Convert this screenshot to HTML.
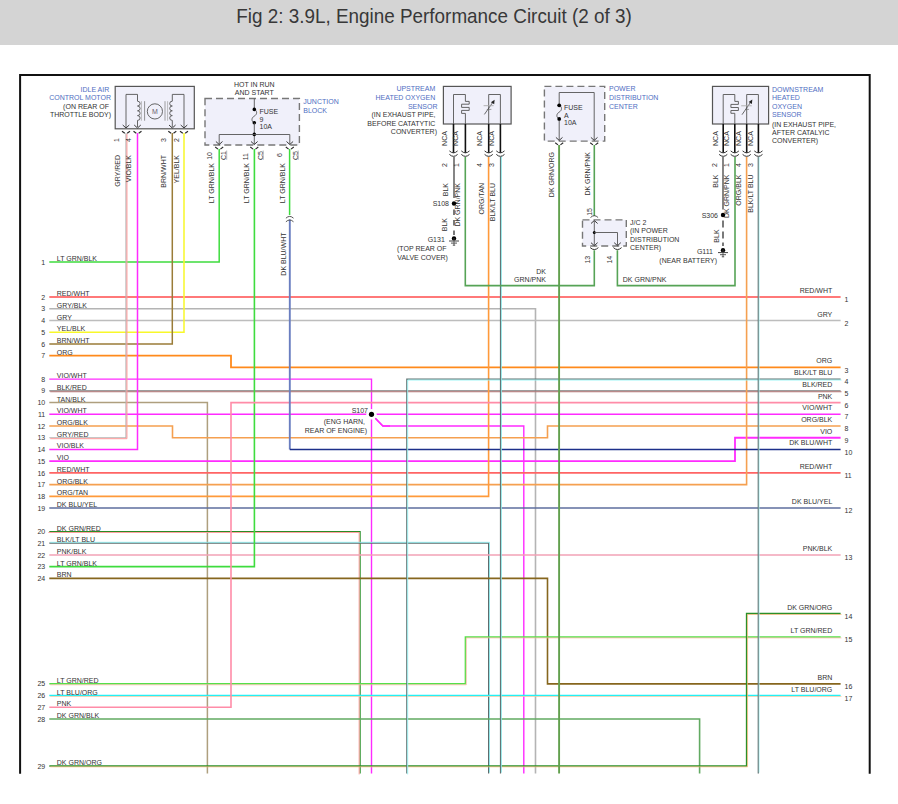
<!DOCTYPE html>
<html><head><meta charset="utf-8"><style>
html,body{margin:0;padding:0;background:#fff;width:898px;height:804px;overflow:hidden}
.hdr{position:absolute;left:0;top:0;width:898px;height:45px;background:#d4d4d4}
.title{position:absolute;left:0;top:0;width:898px;height:44px;line-height:44px;text-align:center;color:#333;font-family:"Liberation Sans",sans-serif;font-size:19px}
svg{position:absolute;left:0;top:0}
svg text{font-family:"Liberation Sans",sans-serif}
</style></head><body>
<div class="hdr"></div>
<svg width="898" height="804" viewBox="0 0 898 804">
<text x="236.3" y="22.5" font-size="19.8" fill="#383838" textLength="395.5" lengthAdjust="spacingAndGlyphs">Fig 2: 3.9L, Engine Performance Circuit (2 of 3)</text>
<path d="M20.1,773.8 L20.1,75 L869.7,75 L869.7,773.8" stroke="#111" stroke-width="2" fill="none"/>
<path d="M49.30,261.94 L219.20,261.94 L219.20,149.00" stroke="#3edc3e" stroke-width="1.5" fill="none" stroke-linejoin="miter" stroke-linecap="butt" />
<path d="M49.30,297.10 L840.60,297.10" stroke="#ff4d4d" stroke-width="1.5" fill="none" stroke-linejoin="miter" stroke-linecap="butt" />
<path d="M49.30,308.82 L535.50,308.82 L535.50,773.50" stroke="#b4b4b4" stroke-width="1.6" fill="none" stroke-linejoin="miter" stroke-linecap="butt" />
<path d="M49.30,320.54 L840.60,320.54" stroke="#bdbdbd" stroke-width="1.6" fill="none" stroke-linejoin="miter" stroke-linecap="butt" />
<path d="M49.30,332.26 L184.00,332.26 L184.00,133.00" stroke="#f8f82a" stroke-width="1.5" fill="none" stroke-linejoin="miter" stroke-linecap="butt" />
<path d="M49.30,343.98 L172.30,343.98 L172.30,133.00" stroke="#9a7c38" stroke-width="1.5" fill="none" stroke-linejoin="miter" stroke-linecap="butt" />
<path d="M49.30,355.70 L231.00,355.70 L231.00,367.42 L840.60,367.42" stroke="#ff8a1c" stroke-width="1.8" fill="none" stroke-linejoin="miter" stroke-linecap="butt" />
<path d="M49.30,379.14 L371.50,379.14 L371.50,773.50" stroke="#ff2bff" stroke-width="1.4" fill="none" stroke-linejoin="miter" stroke-linecap="butt" />
<path d="M49.30,390.86 L840.60,390.86" stroke="#7c7c7c" stroke-width="1.1" fill="none" stroke-linejoin="miter" stroke-linecap="butt" />
<path d="M50.20,391.76 L841.50,391.76" stroke="#b87a7a" stroke-width="1.0" fill="none" stroke-linejoin="miter" stroke-linecap="butt" />
<path d="M49.30,402.58 L207.40,402.58 L207.40,773.50" stroke="#ae9f7e" stroke-width="1.5" fill="none" stroke-linejoin="miter" stroke-linecap="butt" />
<path d="M49.30,414.30 L840.60,414.30" stroke="#ff2bff" stroke-width="1.4" fill="none" stroke-linejoin="miter" stroke-linecap="butt" />
<path d="M375.30,418.30 L382.90,426.02 L523.80,426.02 L523.80,773.50" stroke="#ff2bff" stroke-width="1.4" fill="none" stroke-linejoin="miter" stroke-linecap="butt" />
<path d="M49.30,426.02 L172.50,426.02 L172.50,437.74 L547.50,437.74 L547.50,426.02 L840.60,426.02" stroke="#f5a050" stroke-width="1.6" fill="none" stroke-linejoin="miter" stroke-linecap="butt" />
<path d="M49.30,437.74 L126.00,437.74 L126.00,133.00" stroke="#b4b4b4" stroke-width="1.2" fill="none" stroke-linejoin="miter" stroke-linecap="butt" />
<path d="M50.25,438.69 L126.95,438.69 L126.95,133.95" stroke="#ff9a9a" stroke-width="1.0" fill="none" stroke-linejoin="miter" stroke-linecap="butt" />
<path d="M49.30,449.46 L137.50,449.46 L137.50,133.00" stroke="#ff2bff" stroke-width="1.5" fill="none" stroke-linejoin="miter" stroke-linecap="butt" />
<path d="M49.30,461.18 L735.00,461.18 L735.00,437.74 L840.60,437.74" stroke="#ff2bff" stroke-width="1.8" fill="none" stroke-linejoin="miter" stroke-linecap="butt" />
<path d="M49.30,472.90 L840.60,472.90" stroke="#ff6464" stroke-width="1.6" fill="none" stroke-linejoin="miter" stroke-linecap="butt" />
<path d="M49.30,484.62 L746.60,484.62 L746.60,157.00" stroke="#f5a050" stroke-width="1.6" fill="none" stroke-linejoin="miter" stroke-linecap="butt" />
<path d="M49.30,496.34 L488.60,496.34 L488.60,157.00" stroke="#ff9a3a" stroke-width="1.6" fill="none" stroke-linejoin="miter" stroke-linecap="butt" />
<path d="M49.30,508.06 L840.60,508.06" stroke="#5e6e9e" stroke-width="1.6" fill="none" stroke-linejoin="miter" stroke-linecap="butt" />
<path d="M49.30,531.50 L360.10,531.50 L360.10,773.50" stroke="#1e8a1e" stroke-width="1.2" fill="none" stroke-linejoin="miter" stroke-linecap="butt" />
<path d="M48.35,532.45 L359.15,532.45 L359.15,774.45" stroke="#ff9c9c" stroke-width="1.0" fill="none" stroke-linejoin="miter" stroke-linecap="butt" />
<path d="M49.30,543.22 L488.60,543.22 L488.60,773.50" stroke="#5f6c6c" stroke-width="1.2" fill="none" stroke-linejoin="miter" stroke-linecap="butt" />
<path d="M50.20,542.32 L489.50,542.32 L489.50,772.60" stroke="#8ae8ea" stroke-width="0.9" fill="none" stroke-linejoin="miter" stroke-linecap="butt" />
<path d="M49.30,554.94 L840.60,554.94" stroke="#f2a2b6" stroke-width="1.5" fill="none" stroke-linejoin="miter" stroke-linecap="butt" />
<path d="M49.30,566.66 L254.40,566.66 L254.40,149.00" stroke="#3edc3e" stroke-width="1.6" fill="none" stroke-linejoin="miter" stroke-linecap="butt" />
<path d="M49.30,578.38 L547.50,578.38 L547.50,683.86 L840.60,683.86" stroke="#86661e" stroke-width="1.6" fill="none" stroke-linejoin="miter" stroke-linecap="butt" />
<path d="M49.30,683.86 L465.40,683.86 L465.40,636.98 L840.60,636.98" stroke="#55e04a" stroke-width="1.5" fill="none" stroke-linejoin="miter" stroke-linecap="butt" />
<path d="M50.25,684.81 L466.35,684.81 L466.35,637.93 L841.55,637.93" stroke="#ffb4a4" stroke-width="0.7" fill="none" stroke-linejoin="miter" stroke-linecap="butt" />
<path d="M49.30,695.58 L840.60,695.58" stroke="#22f0f6" stroke-width="1.5" fill="none" stroke-linejoin="miter" stroke-linecap="butt" />
<path d="M50.25,696.53 L841.55,696.53" stroke="#ffc898" stroke-width="0.7" fill="none" stroke-linejoin="miter" stroke-linecap="butt" />
<path d="M49.30,707.30 L231.00,707.30 L231.00,402.58 L840.60,402.58" stroke="#ff8ca8" stroke-width="1.6" fill="none" stroke-linejoin="miter" stroke-linecap="butt" />
<path d="M49.30,719.02 L699.60,719.02 L699.60,773.50" stroke="#62aa62" stroke-width="1.6" fill="none" stroke-linejoin="miter" stroke-linecap="butt" />
<path d="M49.30,765.90 L746.60,765.90 L746.60,613.54 L840.60,613.54" stroke="#2a902a" stroke-width="1.5" fill="none" stroke-linejoin="miter" stroke-linecap="butt" />
<path d="M50.25,766.85 L747.55,766.85 L747.55,614.49 L841.55,614.49" stroke="#ffb878" stroke-width="0.7" fill="none" stroke-linejoin="miter" stroke-linecap="butt" />
<path d="M289.80,219.50 L289.80,449.46" stroke="#6a7ec0" stroke-width="1.9" fill="none" stroke-linejoin="miter" stroke-linecap="butt" />
<path d="M289.80,449.46 L840.60,449.46" stroke="#1c308a" stroke-width="1.5" fill="none" stroke-linejoin="miter" stroke-linecap="butt" />
<path d="M289.60,149.00 L289.60,215.00" stroke="#3edc3e" stroke-width="1.5" fill="none" stroke-linejoin="miter" stroke-linecap="butt" />
<path d="M840.60,379.14 L406.80,379.14 L406.80,773.50" stroke="#5f7272" stroke-width="1.2" fill="none" stroke-linejoin="miter" stroke-linecap="butt" />
<path d="M841.50,380.04 L407.70,380.04 L407.70,774.40" stroke="#9af4f4" stroke-width="0.9" fill="none" stroke-linejoin="miter" stroke-linecap="butt" />
<path d="M500.50,157.00 L500.50,773.50" stroke="#5f6c6c" stroke-width="1.2" fill="none" stroke-linejoin="miter" stroke-linecap="butt" />
<path d="M501.40,156.10 L501.40,772.60" stroke="#8ae8ea" stroke-width="0.9" fill="none" stroke-linejoin="miter" stroke-linecap="butt" />
<path d="M559.10,145.00 L559.10,773.50" stroke="#62a04e" stroke-width="1.9" fill="none" stroke-linejoin="miter" stroke-linecap="butt" />
<path d="M594.30,145.00 L594.30,216.00" stroke="#56a356" stroke-width="1.6" fill="none" stroke-linejoin="miter" stroke-linecap="butt" />
<path d="M594.30,250.20 L594.30,285.60 L465.30,285.60 L465.30,157.00" stroke="#56a356" stroke-width="1.6" fill="none" stroke-linejoin="miter" stroke-linecap="butt" />
<path d="M617.40,250.20 L617.40,285.60 L735.00,285.60 L735.00,157.00" stroke="#56a356" stroke-width="1.6" fill="none" stroke-linejoin="miter" stroke-linecap="butt" />
<path d="M758.30,157.00 L758.30,773.50" stroke="#667474" stroke-width="1.3" fill="none" stroke-linejoin="miter" stroke-linecap="butt" />
<path d="M759.15,156.15 L759.15,772.65" stroke="#a0f0f0" stroke-width="0.7" fill="none" stroke-linejoin="miter" stroke-linecap="butt" />
<path d="M454.00,157.00 L454.00,198.00" stroke="#444" stroke-width="1.3" fill="none" stroke-linejoin="miter" stroke-linecap="butt" />
<line x1="454.00" y1="209.60" x2="454.00" y2="235.00" stroke="#333" stroke-width="1.3" stroke-dasharray="5.5,5"/>
<path d="M723.00,157.00 L723.00,209.50" stroke="#444" stroke-width="1.3" fill="none" stroke-linejoin="miter" stroke-linecap="butt" />
<line x1="723.00" y1="220.50" x2="723.00" y2="246.00" stroke="#333" stroke-width="1.3" stroke-dasharray="7,4"/>
<rect x="115.20" y="86.40" width="79.10" height="42.40" fill="#f0f0fa" stroke="#555" stroke-width="1.2" />
<path d="M126.00,127.00 L126.00,94.40 L137.50,94.40 L137.50,101.20" stroke="#555" stroke-width="0.9" fill="none" stroke-linejoin="miter" stroke-linecap="butt" />
<path d="M137.5,101.2 a2.6,2.4 0 0 1 0,4.8 a2.6,2.4 0 0 1 0,4.8 a2.6,2.4 0 0 1 0,4.8 a2.6,2.4 0 0 1 0,4.8 L137.5,127" stroke="#555" stroke-width="0.9" fill="none"/>
<line x1="141.40" y1="101.20" x2="141.40" y2="120.70" stroke="#aaa" stroke-width="0.8" />
<line x1="144.60" y1="101.20" x2="144.60" y2="120.70" stroke="#777" stroke-width="0.8" />
<circle cx="154.9" cy="111.4" r="7.6" fill="none" stroke="#555" stroke-width="0.9"/>
<text x="154.90" y="113.90" text-anchor="middle" fill="#6a6070" font-size="7.0" >M</text>
<line x1="165.00" y1="101.20" x2="165.00" y2="120.70" stroke="#888" stroke-width="0.8" />
<line x1="167.60" y1="101.20" x2="167.60" y2="120.70" stroke="#aaa" stroke-width="0.8" />
<path d="M184.00,127.00 L184.00,94.40 L172.30,94.40 L172.30,101.20" stroke="#555" stroke-width="0.9" fill="none" stroke-linejoin="miter" stroke-linecap="butt" />
<path d="M172.3,101.2 a2.6,2.4 0 0 0 0,4.8 a2.6,2.4 0 0 0 0,4.8 a2.6,2.4 0 0 0 0,4.8 a2.6,2.4 0 0 0 0,4.8 L172.3,127" stroke="#555" stroke-width="0.9" fill="none"/>
<path d="M122.70,125.00 L126.00,128.00 L129.30,125.00" stroke="#3a3a3a" stroke-width="1.0" fill="none"/>
<path d="M122.00,131.20 L124.80,133.30 M127.20,133.30 L130.00,131.20" stroke="#2a2a2a" stroke-width="1.15" fill="none"/>
<path d="M134.20,125.00 L137.50,128.00 L140.80,125.00" stroke="#3a3a3a" stroke-width="1.0" fill="none"/>
<path d="M133.50,131.20 L136.30,133.30 M138.70,133.30 L141.50,131.20" stroke="#2a2a2a" stroke-width="1.15" fill="none"/>
<path d="M169.00,125.00 L172.30,128.00 L175.60,125.00" stroke="#3a3a3a" stroke-width="1.0" fill="none"/>
<path d="M168.30,131.20 L171.10,133.30 M173.50,133.30 L176.30,131.20" stroke="#2a2a2a" stroke-width="1.15" fill="none"/>
<path d="M180.70,125.00 L184.00,128.00 L187.30,125.00" stroke="#3a3a3a" stroke-width="1.0" fill="none"/>
<path d="M180.00,131.20 L182.80,133.30 M185.20,133.30 L188.00,131.20" stroke="#2a2a2a" stroke-width="1.15" fill="none"/>
<text x="109.30" y="92.00" text-anchor="end" fill="#4f6ec2" font-size="7.0" >IDLE AIR</text>
<text x="111.00" y="100.00" text-anchor="end" fill="#4f6ec2" font-size="7.0" >CONTROL MOTOR</text>
<text x="109.00" y="109.00" text-anchor="end" fill="#333" font-size="7.0" >(ON REAR OF</text>
<text x="111.00" y="117.00" text-anchor="end" fill="#333" font-size="7.0" >THROTTLE BODY)</text>
<text transform="translate(118.60,140.00) rotate(-90)" text-anchor="middle" fill="#333" font-size="7.0" >1</text>
<text transform="translate(131.20,140.00) rotate(-90)" text-anchor="middle" fill="#333" font-size="7.0" >4</text>
<text transform="translate(166.20,140.00) rotate(-90)" text-anchor="middle" fill="#333" font-size="7.0" >3</text>
<text transform="translate(178.60,140.00) rotate(-90)" text-anchor="middle" fill="#333" font-size="7.0" >2</text>
<text transform="translate(119.50,155.00) rotate(-90)" text-anchor="end" fill="#333" font-size="7.0" >GRY/RED</text>
<text transform="translate(131.30,155.00) rotate(-90)" text-anchor="end" fill="#333" font-size="7.0" >VIO/BLK</text>
<text transform="translate(166.30,155.00) rotate(-90)" text-anchor="end" fill="#333" font-size="7.0" >BRN/WHT</text>
<text transform="translate(178.50,155.00) rotate(-90)" text-anchor="end" fill="#333" font-size="7.0" >YEL/BLK</text>
<rect x="205.00" y="98.50" width="94.40" height="46.50" fill="#f0f0fa" stroke="#777" stroke-width="1.4" stroke-dasharray="7,4"/>
<line x1="254.30" y1="98.50" x2="254.30" y2="109.40" stroke="#555" stroke-width="0.9" />
<path d="M254.3,109.4 C257.6,111 257.2,114.5 254.3,116.1 C251.4,117.7 251,121.2 254.3,122.8" stroke="#555" stroke-width="0.9" fill="none"/>
<circle cx="254.30" cy="109.40" r="1.8" fill="#000"/>
<circle cx="254.30" cy="122.80" r="1.8" fill="#000"/>
<line x1="254.30" y1="122.80" x2="254.30" y2="144.50" stroke="#555" stroke-width="0.9" />
<circle cx="254.30" cy="134.40" r="1.8" fill="#000"/>
<path d="M219.20,144.50 L219.20,134.50 L289.80,134.50 L289.80,144.50" stroke="#555" stroke-width="0.9" fill="none" stroke-linejoin="miter" stroke-linecap="butt" />
<path d="M215.90,141.50 L219.20,144.50 L222.50,141.50" stroke="#3a3a3a" stroke-width="1.0" fill="none"/>
<path d="M215.20,147.00 L218.00,149.10 M220.40,149.10 L223.20,147.00" stroke="#2a2a2a" stroke-width="1.15" fill="none"/>
<path d="M251.00,141.50 L254.30,144.50 L257.60,141.50" stroke="#3a3a3a" stroke-width="1.0" fill="none"/>
<path d="M250.30,147.00 L253.10,149.10 M255.50,149.10 L258.30,147.00" stroke="#2a2a2a" stroke-width="1.15" fill="none"/>
<path d="M286.50,141.50 L289.80,144.50 L293.10,141.50" stroke="#3a3a3a" stroke-width="1.0" fill="none"/>
<path d="M285.80,147.00 L288.60,149.10 M291.00,149.10 L293.80,147.00" stroke="#2a2a2a" stroke-width="1.15" fill="none"/>
<text x="254.30" y="87.00" text-anchor="middle" fill="#333" font-size="7.0" >HOT IN RUN</text>
<text x="254.30" y="95.00" text-anchor="middle" fill="#333" font-size="7.0" >AND START</text>
<text x="259.50" y="114.00" text-anchor="start" fill="#333" font-size="7.0" >FUSE</text>
<text x="259.50" y="122.00" text-anchor="start" fill="#333" font-size="7.0" >9</text>
<text x="259.50" y="129.00" text-anchor="start" fill="#333" font-size="7.0" >10A</text>
<text x="303.30" y="104.00" text-anchor="start" fill="#4f6ec2" font-size="7.0" >JUNCTION</text>
<text x="303.30" y="113.00" text-anchor="start" fill="#4f6ec2" font-size="7.0" >BLOCK</text>
<text transform="translate(211.80,152.00) rotate(-90)" text-anchor="end" fill="#333" font-size="7.0" >10</text>
<text transform="translate(247.90,153.00) rotate(-90)" text-anchor="end" fill="#333" font-size="7.0" >11</text>
<text transform="translate(282.30,153.00) rotate(-90)" text-anchor="end" fill="#333" font-size="7.0" >6</text>
<text transform="translate(214.00,163.00) rotate(-90)" text-anchor="end" fill="#333" font-size="7.0" >LT GRN/BLK</text>
<text transform="translate(248.50,163.00) rotate(-90)" text-anchor="end" fill="#333" font-size="7.0" >LT GRN/BLK</text>
<text transform="translate(285.00,163.00) rotate(-90)" text-anchor="end" fill="#333" font-size="7.0" >LT GRN/BLK</text>
<text transform="translate(226.00,151.00) rotate(-90)" text-anchor="end" fill="#333" font-size="7.0" >C1</text>
<line x1="226.70" y1="150.50" x2="226.70" y2="159.80" stroke="#999" stroke-width="0.7" />
<text transform="translate(262.50,151.00) rotate(-90)" text-anchor="end" fill="#333" font-size="7.0" >C5</text>
<line x1="263.20" y1="150.50" x2="263.20" y2="159.80" stroke="#999" stroke-width="0.7" />
<text transform="translate(297.50,151.00) rotate(-90)" text-anchor="end" fill="#333" font-size="7.0" >C5</text>
<line x1="298.20" y1="150.50" x2="298.20" y2="159.80" stroke="#999" stroke-width="0.7" />
<path d="M285.90,218.20 Q289.70,214.60 293.50,218.20" stroke="#444" stroke-width="0.9" fill="none"/>
<path d="M285.90,221.80 Q289.70,218.20 293.50,221.80" stroke="#444" stroke-width="0.9" fill="none"/>
<text transform="translate(285.80,232.50) rotate(-90)" text-anchor="end" fill="#333" font-size="7.0" >DK BLU/WHT</text>
<rect x="443.40" y="86.40" width="67.70" height="37.60" fill="#f0f0fa" stroke="#555" stroke-width="1.2" />
<path d="M453.50,124.00 L453.50,94.50 L465.40,94.50 L465.40,101.40" stroke="#555" stroke-width="0.9" fill="none" stroke-linejoin="miter" stroke-linecap="butt" />
<path d="M465.4,101.4 L469.2,101.4 L469.2,104.2 L461.6,104.2 L461.6,107.4 L469.2,107.4 L469.2,110.4 L461.6,110.4 L461.6,113.4 L465.4,113.4 L465.4,124" stroke="#555" stroke-width="0.9" fill="none"/>
<path d="M488.70,124.00 L488.70,94.50 L500.40,94.50 L500.40,124.00" stroke="#555" stroke-width="0.9" fill="none" stroke-linejoin="miter" stroke-linecap="butt" />
<line x1="484.40" y1="114.40" x2="493.00" y2="102.00" stroke="#444" stroke-width="0.8" />
<path d="M494.6,99.8 L494.2,104.3 L490.9,102.2 Z" fill="#222"/>
<line x1="483.60" y1="105.70" x2="493.60" y2="105.70" stroke="#aaa" stroke-width="0.9" />
<line x1="486.80" y1="109.40" x2="491.40" y2="109.40" stroke="#666" stroke-width="0.6" />
<line x1="453.50" y1="124.00" x2="453.50" y2="152.80" stroke="#111" stroke-width="1.6" />
<path d="M449.40,150.90 Q453.50,154.80 457.60,150.90" stroke="#333" stroke-width="1.0" fill="none"/>
<path d="M449.40,154.40 Q453.50,158.30 457.60,154.40" stroke="#333" stroke-width="1.0" fill="none"/>
<line x1="465.40" y1="124.00" x2="465.40" y2="152.80" stroke="#111" stroke-width="1.6" />
<path d="M461.30,150.90 Q465.40,154.80 469.50,150.90" stroke="#333" stroke-width="1.0" fill="none"/>
<path d="M461.30,154.40 Q465.40,158.30 469.50,154.40" stroke="#333" stroke-width="1.0" fill="none"/>
<line x1="488.70" y1="124.00" x2="488.70" y2="152.80" stroke="#111" stroke-width="1.6" />
<path d="M484.60,150.90 Q488.70,154.80 492.80,150.90" stroke="#333" stroke-width="1.0" fill="none"/>
<path d="M484.60,154.40 Q488.70,158.30 492.80,154.40" stroke="#333" stroke-width="1.0" fill="none"/>
<line x1="500.40" y1="124.00" x2="500.40" y2="152.80" stroke="#111" stroke-width="1.6" />
<path d="M496.30,150.90 Q500.40,154.80 504.50,150.90" stroke="#333" stroke-width="1.0" fill="none"/>
<path d="M496.30,154.40 Q500.40,158.30 504.50,154.40" stroke="#333" stroke-width="1.0" fill="none"/>
<text x="435.30" y="91.20" text-anchor="end" fill="#4f6ec2" font-size="7.0" >UPSTREAM</text>
<text x="435.30" y="100.00" text-anchor="end" fill="#4f6ec2" font-size="7.0" >HEATED OXYGEN</text>
<text x="437.50" y="109.00" text-anchor="end" fill="#4f6ec2" font-size="7.0" >SENSOR</text>
<text x="435.50" y="117.00" text-anchor="end" fill="#333" font-size="7.0" >(IN EXHAUST PIPE,</text>
<text x="435.40" y="125.50" text-anchor="end" fill="#333" font-size="7.0" >BEFORE CATATYTIC</text>
<text x="437.00" y="133.50" text-anchor="end" fill="#333" font-size="7.0" >CONVERTER)</text>
<text transform="translate(446.80,131.10) rotate(-90)" text-anchor="end" fill="#333" font-size="7.0" >NCA</text>
<text transform="translate(457.80,131.10) rotate(-90)" text-anchor="end" fill="#333" font-size="7.0" >NCA</text>
<text transform="translate(482.30,131.10) rotate(-90)" text-anchor="end" fill="#333" font-size="7.0" >NCA</text>
<text transform="translate(493.80,131.10) rotate(-90)" text-anchor="end" fill="#333" font-size="7.0" >NCA</text>
<text transform="translate(447.30,165.00) rotate(-90)" text-anchor="middle" fill="#333" font-size="7.0" >2</text>
<text transform="translate(458.60,165.00) rotate(-90)" text-anchor="middle" fill="#333" font-size="7.0" >1</text>
<text transform="translate(482.30,165.00) rotate(-90)" text-anchor="middle" fill="#333" font-size="7.0" >4</text>
<text transform="translate(494.20,165.00) rotate(-90)" text-anchor="middle" fill="#333" font-size="7.0" >3</text>
<text transform="translate(447.50,183.00) rotate(-90)" text-anchor="end" fill="#333" font-size="7.0" >BLK</text>
<text transform="translate(459.50,183.00) rotate(-90)" text-anchor="end" fill="#333" font-size="7.0" >DK GRN/PNK</text>
<text transform="translate(483.50,183.00) rotate(-90)" text-anchor="end" fill="#333" font-size="7.0" >ORG/TAN</text>
<text transform="translate(495.00,183.00) rotate(-90)" text-anchor="end" fill="#333" font-size="7.0" >BLK/LT BLU</text>
<circle cx="454.00" cy="203.50" r="2.2" fill="#000"/>
<text x="449.00" y="206.00" text-anchor="end" fill="#333" font-size="7.0" >S108</text>
<text transform="translate(447.30,218.00) rotate(-90)" text-anchor="end" fill="#333" font-size="7.0" >BLK</text>
<circle cx="454.00" cy="238.40" r="2.2" fill="#000"/>
<line x1="449.00" y1="241.00" x2="459.00" y2="241.00" stroke="#444" stroke-width="1.0" />
<line x1="451.00" y1="243.10" x2="457.00" y2="243.10" stroke="#555" stroke-width="1.0" />
<line x1="452.80" y1="245.20" x2="455.20" y2="245.20" stroke="#555" stroke-width="1.0" />
<line x1="454.00" y1="238.00" x2="454.00" y2="245.20" stroke="#444" stroke-width="0.8" />
<text x="444.80" y="241.80" text-anchor="end" fill="#333" font-size="7.0" >G131</text>
<text x="421.80" y="250.60" text-anchor="middle" fill="#333" font-size="7.0" >(TOP REAR OF</text>
<text x="422.60" y="259.60" text-anchor="middle" fill="#333" font-size="7.0" >VALVE COVER)</text>
<text x="546.00" y="274.00" text-anchor="end" fill="#333" font-size="7.0" >DK</text>
<text x="546.00" y="282.00" text-anchor="end" fill="#333" font-size="7.0" >GRN/PNK</text>
<rect x="544.40" y="86.40" width="60.30" height="54.70" fill="#f0f0fa" stroke="#777" stroke-width="1.4" stroke-dasharray="7,4"/>
<path d="M559.20,140.50 L559.20,92.50 L594.20,92.50 L594.20,140.50" stroke="#555" stroke-width="0.9" fill="none" stroke-linejoin="miter" stroke-linecap="butt" />
<rect x="556" y="104" width="7" height="16" fill="#f0f0fa"/>
<path d="M559.2,105.3 C562.5,106.9 562.1,110.4 559.2,112.1 C556.3,113.8 555.9,117.3 559.2,118.9" stroke="#555" stroke-width="0.9" fill="none"/>
<circle cx="559.20" cy="105.30" r="1.9" fill="#000"/>
<circle cx="559.20" cy="118.90" r="1.9" fill="#000"/>
<path d="M555.90,137.40 L559.20,140.40 L562.50,137.40" stroke="#3a3a3a" stroke-width="1.0" fill="none"/>
<path d="M555.20,142.80 L558.00,144.90 M560.40,144.90 L563.20,142.80" stroke="#2a2a2a" stroke-width="1.15" fill="none"/>
<path d="M590.90,137.40 L594.20,140.40 L597.50,137.40" stroke="#3a3a3a" stroke-width="1.0" fill="none"/>
<path d="M590.20,142.80 L593.00,144.90 M595.40,144.90 L598.20,142.80" stroke="#2a2a2a" stroke-width="1.15" fill="none"/>
<text x="564.00" y="110.00" text-anchor="start" fill="#333" font-size="7.0" >FUSE</text>
<text x="564.00" y="118.00" text-anchor="start" fill="#333" font-size="7.0" >A</text>
<text x="564.00" y="125.00" text-anchor="start" fill="#333" font-size="7.0" >10A</text>
<text x="609.00" y="91.00" text-anchor="start" fill="#4f6ec2" font-size="7.0" >POWER</text>
<text x="609.00" y="100.00" text-anchor="start" fill="#4f6ec2" font-size="7.0" >DISTRIBUTION</text>
<text x="609.00" y="109.00" text-anchor="start" fill="#4f6ec2" font-size="7.0" >CENTER</text>
<text transform="translate(554.40,152.00) rotate(-90)" text-anchor="end" fill="#333" font-size="7.0" >DK GRN/ORG</text>
<text transform="translate(589.50,152.00) rotate(-90)" text-anchor="end" fill="#333" font-size="7.0" >DK GRN/PNK</text>
<rect x="582.50" y="219.90" width="43.80" height="26.10" fill="#f0f0fa" stroke="#777" stroke-width="1.4" stroke-dasharray="7,4"/>
<line x1="594.30" y1="221.00" x2="594.30" y2="245.00" stroke="#555" stroke-width="0.9" />
<path d="M591.00,223.50 L594.30,220.50 L597.60,223.50" stroke="#3a3a3a" stroke-width="1.0" fill="none"/>
<path d="M591.00,242.70 L594.30,245.70 L597.60,242.70" stroke="#3a3a3a" stroke-width="1.0" fill="none"/>
<circle cx="594.30" cy="232.50" r="1.5" fill="#000"/>
<path d="M594.30,232.50 L617.50,232.50 L617.50,245.00" stroke="#555" stroke-width="0.9" fill="none" stroke-linejoin="miter" stroke-linecap="butt" />
<path d="M614.20,242.70 L617.50,245.70 L620.80,242.70" stroke="#3a3a3a" stroke-width="1.0" fill="none"/>
<path d="M590.50,217.50 Q594.30,213.90 598.10,217.50" stroke="#444" stroke-width="0.9" fill="none"/>
<path d="M590.20,247.60 Q594.30,251.50 598.40,247.60" stroke="#333" stroke-width="1.0" fill="none"/>
<path d="M613.40,247.60 Q617.50,251.50 621.60,247.60" stroke="#333" stroke-width="1.0" fill="none"/>
<text transform="translate(592.30,208.00) rotate(-90)" text-anchor="end" fill="#333" font-size="7.0" >15</text>
<text transform="translate(589.50,255.80) rotate(-90)" text-anchor="end" fill="#333" font-size="7.0" >13</text>
<text transform="translate(612.30,255.80) rotate(-90)" text-anchor="end" fill="#333" font-size="7.0" >14</text>
<text x="630.00" y="225.00" text-anchor="start" fill="#333" font-size="7.0" >J/C 2</text>
<text x="630.00" y="232.50" text-anchor="start" fill="#333" font-size="7.0" >(IN POWER</text>
<text x="630.00" y="242.00" text-anchor="start" fill="#333" font-size="7.0" >DISTRIBUTION</text>
<text x="630.00" y="250.00" text-anchor="start" fill="#333" font-size="7.0" >CENTER)</text>
<text x="622.80" y="282.00" text-anchor="start" fill="#333" font-size="7.0" >DK GRN/PNK</text>
<rect x="712.50" y="86.40" width="56.10" height="37.60" fill="#f0f0fa" stroke="#555" stroke-width="1.2" />
<path d="M723.20,124.00 L723.20,94.50 L734.80,94.50 L734.80,101.40" stroke="#555" stroke-width="0.9" fill="none" stroke-linejoin="miter" stroke-linecap="butt" />
<path d="M734.8,101.4 L738.4,101.4 L738.4,104.4 L730.9,104.4 L730.9,107.5 L738.4,107.5 L738.4,110.5 L730.9,110.5 L730.9,113.3 L734.8,113.3 L734.8,124" stroke="#555" stroke-width="0.9" fill="none"/>
<path d="M746.70,124.00 L746.70,94.50 L758.40,94.50 L758.40,124.00" stroke="#555" stroke-width="0.9" fill="none" stroke-linejoin="miter" stroke-linecap="butt" />
<line x1="742.00" y1="114.70" x2="750.80" y2="102.00" stroke="#444" stroke-width="0.8" />
<path d="M752.3,99.6 L751.9,104.1 L748.6,102 Z" fill="#222"/>
<line x1="741.20" y1="105.80" x2="751.70" y2="105.80" stroke="#aaa" stroke-width="0.9" />
<line x1="745.00" y1="109.40" x2="749.00" y2="109.40" stroke="#666" stroke-width="0.6" />
<line x1="723.20" y1="124.00" x2="723.20" y2="152.80" stroke="#111" stroke-width="1.6" />
<path d="M719.10,150.90 Q723.20,154.80 727.30,150.90" stroke="#333" stroke-width="1.0" fill="none"/>
<path d="M719.10,154.40 Q723.20,158.30 727.30,154.40" stroke="#333" stroke-width="1.0" fill="none"/>
<line x1="734.80" y1="124.00" x2="734.80" y2="152.80" stroke="#111" stroke-width="1.6" />
<path d="M730.70,150.90 Q734.80,154.80 738.90,150.90" stroke="#333" stroke-width="1.0" fill="none"/>
<path d="M730.70,154.40 Q734.80,158.30 738.90,154.40" stroke="#333" stroke-width="1.0" fill="none"/>
<line x1="746.70" y1="124.00" x2="746.70" y2="152.80" stroke="#111" stroke-width="1.6" />
<path d="M742.60,150.90 Q746.70,154.80 750.80,150.90" stroke="#333" stroke-width="1.0" fill="none"/>
<path d="M742.60,154.40 Q746.70,158.30 750.80,154.40" stroke="#333" stroke-width="1.0" fill="none"/>
<line x1="758.40" y1="124.00" x2="758.40" y2="152.80" stroke="#111" stroke-width="1.6" />
<path d="M754.30,150.90 Q758.40,154.80 762.50,150.90" stroke="#333" stroke-width="1.0" fill="none"/>
<path d="M754.30,154.40 Q758.40,158.30 762.50,154.40" stroke="#333" stroke-width="1.0" fill="none"/>
<text x="772.00" y="92.00" text-anchor="start" fill="#4f6ec2" font-size="7.0" >DOWNSTREAM</text>
<text x="772.00" y="100.00" text-anchor="start" fill="#4f6ec2" font-size="7.0" >HEATED</text>
<text x="772.00" y="109.00" text-anchor="start" fill="#4f6ec2" font-size="7.0" >OXYGEN</text>
<text x="772.00" y="117.00" text-anchor="start" fill="#4f6ec2" font-size="7.0" >SENSOR</text>
<text x="772.00" y="126.50" text-anchor="start" fill="#333" font-size="7.0" >(IN EXHAUST PIPE,</text>
<text x="772.00" y="134.50" text-anchor="start" fill="#333" font-size="7.0" >AFTER CATALYIC</text>
<text x="772.00" y="143.00" text-anchor="start" fill="#333" font-size="7.0" >CONVERTER)</text>
<text transform="translate(717.50,131.20) rotate(-90)" text-anchor="end" fill="#333" font-size="7.0" >NCA</text>
<text transform="translate(729.00,131.20) rotate(-90)" text-anchor="end" fill="#333" font-size="7.0" >NCA</text>
<text transform="translate(740.50,131.20) rotate(-90)" text-anchor="end" fill="#333" font-size="7.0" >NCA</text>
<text transform="translate(752.50,131.20) rotate(-90)" text-anchor="end" fill="#333" font-size="7.0" >NCA</text>
<text transform="translate(717.00,165.00) rotate(-90)" text-anchor="middle" fill="#333" font-size="7.0" >2</text>
<text transform="translate(729.00,165.00) rotate(-90)" text-anchor="middle" fill="#333" font-size="7.0" >1</text>
<text transform="translate(741.00,165.00) rotate(-90)" text-anchor="middle" fill="#333" font-size="7.0" >4</text>
<text transform="translate(752.50,165.00) rotate(-90)" text-anchor="middle" fill="#333" font-size="7.0" >3</text>
<text transform="translate(717.50,174.50) rotate(-90)" text-anchor="end" fill="#333" font-size="7.0" >BLK</text>
<text transform="translate(729.00,174.50) rotate(-90)" text-anchor="end" fill="#333" font-size="7.0" >DK GRN/PNK</text>
<text transform="translate(741.00,174.50) rotate(-90)" text-anchor="end" fill="#333" font-size="7.0" >ORG/BLK</text>
<text transform="translate(752.50,174.50) rotate(-90)" text-anchor="end" fill="#333" font-size="7.0" >BLK/LT BLU</text>
<circle cx="723.00" cy="215.00" r="2.2" fill="#000"/>
<text x="718.00" y="217.50" text-anchor="end" fill="#333" font-size="7.0" >S306</text>
<text transform="translate(718.50,229.40) rotate(-90)" text-anchor="end" fill="#333" font-size="7.0" >BLK</text>
<circle cx="723.00" cy="250.30" r="2.2" fill="#000"/>
<line x1="718.00" y1="252.60" x2="728.00" y2="252.60" stroke="#444" stroke-width="1.0" />
<line x1="720.00" y1="254.70" x2="726.00" y2="254.70" stroke="#555" stroke-width="1.0" />
<line x1="721.80" y1="256.80" x2="724.20" y2="256.80" stroke="#555" stroke-width="1.0" />
<line x1="723.00" y1="249.60" x2="723.00" y2="256.80" stroke="#444" stroke-width="0.8" />
<text x="713.00" y="253.50" text-anchor="end" fill="#333" font-size="7.0" >G111</text>
<text x="717.00" y="262.50" text-anchor="end" fill="#333" font-size="7.0" >(NEAR BATTERY)</text>
<circle cx="371.5" cy="414.30" r="5.2" fill="#fff"/>
<circle cx="371.50" cy="414.30" r="2.6" fill="#000"/>
<path d="M375.30,418.30 L382.90,426.02 L390.00,426.02" stroke="#ff2bff" stroke-width="1.4" fill="none" stroke-linejoin="miter" stroke-linecap="butt" />
<text x="368.00" y="412.50" text-anchor="end" fill="#333" font-size="7.0" >S107</text>
<text x="365.00" y="424.00" text-anchor="end" fill="#333" font-size="7.0" >(ENG HARN,</text>
<text x="367.00" y="433.00" text-anchor="end" fill="#333" font-size="7.0" >REAR OF ENGINE)</text>
<text x="45.20" y="264.54" text-anchor="end" fill="#333" font-size="7.0" >1</text>
<text x="56.80" y="260.94" text-anchor="start" fill="#333" font-size="7.0" >LT GRN/BLK</text>
<text x="45.20" y="299.70" text-anchor="end" fill="#333" font-size="7.0" >2</text>
<text x="56.80" y="296.10" text-anchor="start" fill="#333" font-size="7.0" >RED/WHT</text>
<text x="45.20" y="311.42" text-anchor="end" fill="#333" font-size="7.0" >3</text>
<text x="56.80" y="307.82" text-anchor="start" fill="#333" font-size="7.0" >GRY/BLK</text>
<text x="45.20" y="323.14" text-anchor="end" fill="#333" font-size="7.0" >4</text>
<text x="56.80" y="319.54" text-anchor="start" fill="#333" font-size="7.0" >GRY</text>
<text x="45.20" y="334.86" text-anchor="end" fill="#333" font-size="7.0" >5</text>
<text x="56.80" y="331.26" text-anchor="start" fill="#333" font-size="7.0" >YEL/BLK</text>
<text x="45.20" y="346.58" text-anchor="end" fill="#333" font-size="7.0" >6</text>
<text x="56.80" y="342.98" text-anchor="start" fill="#333" font-size="7.0" >BRN/WHT</text>
<text x="45.20" y="358.30" text-anchor="end" fill="#333" font-size="7.0" >7</text>
<text x="56.80" y="354.70" text-anchor="start" fill="#333" font-size="7.0" >ORG</text>
<text x="45.20" y="381.74" text-anchor="end" fill="#333" font-size="7.0" >8</text>
<text x="56.80" y="378.14" text-anchor="start" fill="#333" font-size="7.0" >VIO/WHT</text>
<text x="45.20" y="393.46" text-anchor="end" fill="#333" font-size="7.0" >9</text>
<text x="56.80" y="389.86" text-anchor="start" fill="#333" font-size="7.0" >BLK/RED</text>
<text x="45.20" y="405.18" text-anchor="end" fill="#333" font-size="7.0" >10</text>
<text x="56.80" y="401.58" text-anchor="start" fill="#333" font-size="7.0" >TAN/BLK</text>
<text x="45.20" y="416.90" text-anchor="end" fill="#333" font-size="7.0" >11</text>
<text x="56.80" y="413.30" text-anchor="start" fill="#333" font-size="7.0" >VIO/WHT</text>
<text x="45.20" y="428.62" text-anchor="end" fill="#333" font-size="7.0" >12</text>
<text x="56.80" y="425.02" text-anchor="start" fill="#333" font-size="7.0" >ORG/BLK</text>
<text x="45.20" y="440.34" text-anchor="end" fill="#333" font-size="7.0" >13</text>
<text x="56.80" y="436.74" text-anchor="start" fill="#333" font-size="7.0" >GRY/RED</text>
<text x="45.20" y="452.06" text-anchor="end" fill="#333" font-size="7.0" >14</text>
<text x="56.80" y="448.46" text-anchor="start" fill="#333" font-size="7.0" >VIO/BLK</text>
<text x="45.20" y="463.78" text-anchor="end" fill="#333" font-size="7.0" >15</text>
<text x="56.80" y="460.18" text-anchor="start" fill="#333" font-size="7.0" >VIO</text>
<text x="45.20" y="475.50" text-anchor="end" fill="#333" font-size="7.0" >16</text>
<text x="56.80" y="471.90" text-anchor="start" fill="#333" font-size="7.0" >RED/WHT</text>
<text x="45.20" y="487.22" text-anchor="end" fill="#333" font-size="7.0" >17</text>
<text x="56.80" y="483.62" text-anchor="start" fill="#333" font-size="7.0" >ORG/BLK</text>
<text x="45.20" y="498.94" text-anchor="end" fill="#333" font-size="7.0" >18</text>
<text x="56.80" y="495.34" text-anchor="start" fill="#333" font-size="7.0" >ORG/TAN</text>
<text x="45.20" y="510.66" text-anchor="end" fill="#333" font-size="7.0" >19</text>
<text x="56.80" y="507.06" text-anchor="start" fill="#333" font-size="7.0" >DK BLU/YEL</text>
<text x="45.20" y="534.10" text-anchor="end" fill="#333" font-size="7.0" >20</text>
<text x="56.80" y="530.50" text-anchor="start" fill="#333" font-size="7.0" >DK GRN/RED</text>
<text x="45.20" y="545.82" text-anchor="end" fill="#333" font-size="7.0" >21</text>
<text x="56.80" y="542.22" text-anchor="start" fill="#333" font-size="7.0" >BLK/LT BLU</text>
<text x="45.20" y="557.54" text-anchor="end" fill="#333" font-size="7.0" >22</text>
<text x="56.80" y="553.94" text-anchor="start" fill="#333" font-size="7.0" >PNK/BLK</text>
<text x="45.20" y="569.26" text-anchor="end" fill="#333" font-size="7.0" >23</text>
<text x="56.80" y="565.66" text-anchor="start" fill="#333" font-size="7.0" >LT GRN/BLK</text>
<text x="45.20" y="580.98" text-anchor="end" fill="#333" font-size="7.0" >24</text>
<text x="56.80" y="577.38" text-anchor="start" fill="#333" font-size="7.0" >BRN</text>
<text x="45.20" y="686.46" text-anchor="end" fill="#333" font-size="7.0" >25</text>
<text x="56.80" y="682.86" text-anchor="start" fill="#333" font-size="7.0" >LT GRN/RED</text>
<text x="45.20" y="698.18" text-anchor="end" fill="#333" font-size="7.0" >26</text>
<text x="56.80" y="694.58" text-anchor="start" fill="#333" font-size="7.0" >LT BLU/ORG</text>
<text x="45.20" y="709.90" text-anchor="end" fill="#333" font-size="7.0" >27</text>
<text x="56.80" y="706.30" text-anchor="start" fill="#333" font-size="7.0" >PNK</text>
<text x="45.20" y="721.62" text-anchor="end" fill="#333" font-size="7.0" >28</text>
<text x="56.80" y="718.02" text-anchor="start" fill="#333" font-size="7.0" >DK GRN/BLK</text>
<text x="45.20" y="768.50" text-anchor="end" fill="#333" font-size="7.0" >29</text>
<text x="56.80" y="764.90" text-anchor="start" fill="#333" font-size="7.0" >DK GRN/ORG</text>
<text x="844.50" y="302.20" text-anchor="start" fill="#333" font-size="7.0" >1</text>
<text x="832.30" y="293.10" text-anchor="end" fill="#333" font-size="7.0" >RED/WHT</text>
<text x="844.50" y="325.64" text-anchor="start" fill="#333" font-size="7.0" >2</text>
<text x="832.30" y="316.54" text-anchor="end" fill="#333" font-size="7.0" >GRY</text>
<text x="844.50" y="372.52" text-anchor="start" fill="#333" font-size="7.0" >3</text>
<text x="832.30" y="363.42" text-anchor="end" fill="#333" font-size="7.0" >ORG</text>
<text x="844.50" y="384.24" text-anchor="start" fill="#333" font-size="7.0" >4</text>
<text x="832.30" y="375.14" text-anchor="end" fill="#333" font-size="7.0" >BLK/LT BLU</text>
<text x="844.50" y="395.96" text-anchor="start" fill="#333" font-size="7.0" >5</text>
<text x="832.30" y="386.86" text-anchor="end" fill="#333" font-size="7.0" >BLK/RED</text>
<text x="844.50" y="407.68" text-anchor="start" fill="#333" font-size="7.0" >6</text>
<text x="832.30" y="398.58" text-anchor="end" fill="#333" font-size="7.0" >PNK</text>
<text x="844.50" y="419.40" text-anchor="start" fill="#333" font-size="7.0" >7</text>
<text x="832.30" y="410.30" text-anchor="end" fill="#333" font-size="7.0" >VIO/WHT</text>
<text x="844.50" y="431.12" text-anchor="start" fill="#333" font-size="7.0" >8</text>
<text x="832.30" y="422.02" text-anchor="end" fill="#333" font-size="7.0" >ORG/BLK</text>
<text x="844.50" y="442.84" text-anchor="start" fill="#333" font-size="7.0" >9</text>
<text x="832.30" y="433.74" text-anchor="end" fill="#333" font-size="7.0" >VIO</text>
<text x="844.50" y="454.56" text-anchor="start" fill="#333" font-size="7.0" >10</text>
<text x="832.30" y="445.46" text-anchor="end" fill="#333" font-size="7.0" >DK BLU/WHT</text>
<text x="844.50" y="478.00" text-anchor="start" fill="#333" font-size="7.0" >11</text>
<text x="832.30" y="468.90" text-anchor="end" fill="#333" font-size="7.0" >RED/WHT</text>
<text x="844.50" y="513.16" text-anchor="start" fill="#333" font-size="7.0" >12</text>
<text x="832.30" y="504.06" text-anchor="end" fill="#333" font-size="7.0" >DK BLU/YEL</text>
<text x="844.50" y="560.04" text-anchor="start" fill="#333" font-size="7.0" >13</text>
<text x="832.30" y="550.94" text-anchor="end" fill="#333" font-size="7.0" >PNK/BLK</text>
<text x="844.50" y="618.64" text-anchor="start" fill="#333" font-size="7.0" >14</text>
<text x="832.30" y="609.54" text-anchor="end" fill="#333" font-size="7.0" >DK GRN/ORG</text>
<text x="844.50" y="642.08" text-anchor="start" fill="#333" font-size="7.0" >15</text>
<text x="832.30" y="632.98" text-anchor="end" fill="#333" font-size="7.0" >LT GRN/RED</text>
<text x="844.50" y="688.96" text-anchor="start" fill="#333" font-size="7.0" >16</text>
<text x="832.30" y="679.86" text-anchor="end" fill="#333" font-size="7.0" >BRN</text>
<text x="844.50" y="700.68" text-anchor="start" fill="#333" font-size="7.0" >17</text>
<text x="832.30" y="691.58" text-anchor="end" fill="#333" font-size="7.0" >LT BLU/ORG</text>
</svg>
</body></html>
